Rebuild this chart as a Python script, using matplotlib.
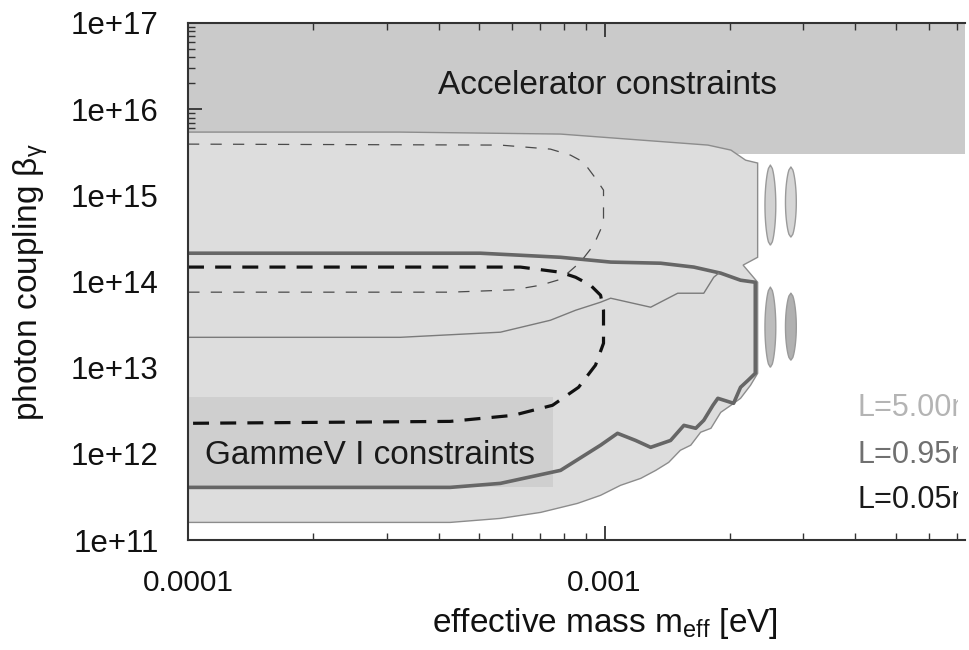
import numpy as np
import matplotlib
matplotlib.use("Agg")
import matplotlib.pyplot as plt
from matplotlib.ticker import FixedLocator, FixedFormatter, LogLocator, NullFormatter
from matplotlib.transforms import Bbox, TransformedBbox

plt.rcParams['font.family'] = ['Liberation Sans', 'DejaVu Sans']
plt.rcParams['mathtext.fontset'] = 'custom'
plt.rcParams['mathtext.rm'] = 'Liberation Sans'
plt.rcParams['mathtext.it'] = 'Liberation Sans:italic'

# axis ranges and ticks
x_range = [1e-4, 7.33e-3]
y_range = [1e11, 1e17]
x_ticks = [1e-4, 1e-3]
x_labels = ["0.0001", "0.001"]
y_ticks = [1e11, 1e12, 1e13, 1e14, 1e15, 1e16, 1e17]
y_labels = ["1e+11", "1e+12", "1e+13", "1e+14", "1e+15", "1e+16", "1e+17"]

# accelerator band
acc_x = [1e-4, 7.33e-3]
acc_lo = 3.0e15
acc_hi = 1e17

# outer excluded region (closed boundary)
outer_x = [1e-4, 3.23e-4, 7.84e-4, 1.22e-3, 1.77e-3, 2.01e-3, 2.18e-3, 2.33e-3, 2.33e-3, 2.15e-3,
           2.33e-3, 2.33e-3, 2.24e-3, 2.12e-3, 2.01e-3, 1.90e-3, 1.80e-3, 1.70e-3, 1.61e-3, 1.52e-3,
           1.425e-3, 1.327e-3, 1.221e-3, 1.092e-3, 9.78e-4, 8.61e-4, 7.02e-4, 5.62e-4, 4.26e-4, 1e-4]
outer_y = [5.42e15, 5.42e15, 5.14e15, 4.38e15, 3.83e15, 3.35e15, 2.56e15, 2.37e15, 1.91e14, 1.55e14,
           9.8e13, 8.6e12, 6.25e12, 4.41e12, 3.66e12, 3.03e12, 1.98e12, 1.78e12, 1.26e12, 1.10e12,
           7.96e11, 6.43e11, 5.19e11, 4.31e11, 3.30e11, 2.66e11, 2.09e11, 1.78e11, 1.6e11, 1.6e11]

# thick solid contour
thick_x = [1e-4, 5.03e-4, 7.84e-4, 1.034e-3, 1.363e-3, 1.637e-3, 1.90e-3, 2.12e-3, 2.30e-3, 2.30e-3,
           2.21e-3, 2.12e-3, 2.04e-3, 1.87e-3, 1.82e-3, 1.73e-3, 1.655e-3, 1.55e-3, 1.44e-3, 1.29e-3,
           1.187e-3, 1.074e-3, 9.78e-4, 7.84e-4, 5.62e-4, 4.26e-4, 1e-4]
thick_y = [2.13e14, 2.13e14, 1.91e14, 1.68e14, 1.63e14, 1.47e14, 1.25e14, 1.035e14, 9.8e13, 8.6e12,
           7.14e12, 5.92e12, 3.86e12, 4.41e12, 3.66e12, 2.45e12, 1.98e12, 2.14e12, 1.43e12, 1.19e12,
           1.43e12, 1.73e12, 1.26e12, 6.43e11, 4.54e11, 4.08e11, 4.08e11]

# thin solid contour
thin_x = [1e-4, 3.23e-4, 5.62e-4, 7.41e-4, 8.52e-4, 9.78e-4, 1.034e-3, 1.29e-3, 1.498e-3, 1.73e-3, 1.828e-3, 1.879e-3]
thin_y = [2.25e13, 2.25e13, 2.58e13, 3.55e13, 4.64e13, 5.75e13, 6.4e13, 5.03e13, 7.31e13, 7.31e13, 1.12e14, 1.25e14]

# thin dashed contour
tdash_x = [1e-4, 5.62e-4, 7.41e-4, 8.28e-4, 8.90e-4, 9.51e-4, 9.94e-4, 9.94e-4, 9.41e-4, 8.75e-4,
           7.84e-4, 7.02e-4, 6.04e-4, 4.26e-4, 1e-4]
tdash_y = [3.93e15, 3.83e15, 3.44e15, 2.93e15, 2.43e15, 1.58e15, 1.15e15, 4.75e14, 2.64e14, 1.68e14,
           1.06e14, 9.06e13, 8.0e13, 7.52e13, 7.52e13]

# thick dashed contour
kdash_x = [1e-4, 6.28e-4, 7.84e-4, 8.52e-4, 9.25e-4, 9.78e-4, 9.94e-4, 9.94e-4, 9.51e-4, 8.66e-4,
           7.50e-4, 6.04e-4, 4.26e-4, 1e-4]
kdash_y = [1.47e14, 1.47e14, 1.28e14, 1.12e14, 9.06e13, 6.93e13, 4.64e13, 1.92e13, 1.07e13, 5.92e12,
           3.66e12, 2.80e12, 2.38e12, 2.26e12]

# GammeV I region
gam_x = [1e-4, 7.5e-4]
gam_lo = 4.08e11
gam_hi = 4.6e12

# resonance lobes beyond the cut-off
lobe_xc = [2.5e-3, 2.8e-3, 2.5e-3, 2.8e-3]
lobe_ylo = [2.64e14, 3.27e14, 1.01e13, 1.22e13]
lobe_yhi = [2.24e15, 2.13e15, 8.59e13, 7.31e13]

L_labels = ["L=5.00m", "L=0.95m", "L=0.05m"]

fig = plt.figure(figsize=(9.7, 6.5), dpi=100)
ax = fig.add_axes([188 / 970, 1 - 540 / 650, 777 / 970, 517 / 650])
ax.set_xscale('log')
ax.set_yscale('log')
ax.set_xlim(x_range)
ax.set_ylim(y_range)

ax.fill_between(acc_x, acc_lo, acc_hi, color='#cacaca', lw=0, zorder=1)
ax.fill(outer_x, outer_y, facecolor='#dddddd', edgecolor='#8c8c8c', lw=1.0, zorder=2)
ax.fill_between(gam_x, gam_lo, gam_hi, color='#cfcfcf', lw=0, zorder=2.5)

# lobes
t = np.linspace(0, 1, 25)
for xc, ylo, yhi, fc in zip(lobe_xc, lobe_ylo, lobe_yhi, ['#d2d2d2', '#d6d6d6', '#bcbcbc', '#b0b0b0']):
    ly = 10 ** (np.log10(ylo) + t * (np.log10(yhi) - np.log10(ylo)))
    w = 10 ** (0.013 * np.sin(np.pi * t) ** 0.5)
    xs = np.concatenate([xc * w, (xc / w)[::-1]])
    ys = np.concatenate([ly, ly[::-1]])
    ax.fill(xs, ys, facecolor=fc, edgecolor='#9a9a9a', lw=1.0, zorder=2)

ax.plot(thick_x, thick_y, color='#666666', lw=2.6, solid_joinstyle='round', zorder=4)
ax.plot(thin_x, thin_y, color='#7a7a7a', lw=1.0, zorder=4)
ax.plot(tdash_x, tdash_y, color='#4a4a4a', lw=0.9, linestyle=(0, (9, 9)), zorder=4)
ax.plot(kdash_x, kdash_y, color='#111111', lw=2.3, linestyle=(0, (5, 3.5)), zorder=5)

ax.text(0.322, 0.880, "Accelerator constraints", transform=ax.transAxes,
        fontsize=24, ha='left', va='center', color='#1a1a1a', zorder=6)
ax.text(0.022, 0.164, "GammeV I constraints", transform=ax.transAxes,
        fontsize=24, ha='left', va='center', color='#1a1a1a', zorder=6)
# the labels on the right are cut at the edge of the scanned figure
clip = TransformedBbox(Bbox([[0, 0], [958 / 970, 1]]), fig.transFigure)
for lab, yy, c in zip(L_labels, [0.255, 0.164, 0.077], ['#b4b4b4', '#707070', '#1a1a1a']):
    tx = ax.text(0.862, yy, lab, transform=ax.transAxes, fontsize=22, ha='left', va='center',
                 color=c, zorder=6)
    tx.set_clip_box(clip)
    tx.set_clip_on(True)

ax.xaxis.set_major_locator(FixedLocator(x_ticks))
ax.xaxis.set_major_formatter(FixedFormatter(x_labels))
ax.xaxis.set_minor_locator(LogLocator(base=10, subs=np.arange(2, 10)))
ax.xaxis.set_minor_formatter(NullFormatter())
ax.yaxis.set_major_locator(FixedLocator(y_ticks))
ax.yaxis.set_major_formatter(FixedFormatter(y_labels))
ax.yaxis.set_minor_locator(LogLocator(base=10, subs=np.arange(2, 10)))
ax.yaxis.set_minor_formatter(NullFormatter())

ax.tick_params(which='both', direction='in', top=True, right=False, colors='#333333',
               labelcolor='#111111')
ax.tick_params(which='major', length=10, width=1.3, pad=21)
ax.tick_params(axis='x', which='major', labelsize=21.5)
ax.tick_params(axis='y', which='major', labelsize=22.5)
ax.tick_params(which='minor', length=5, width=1.0)
for side in ['left', 'bottom', 'top']:
    ax.spines[side].set_color('#333333')
    ax.spines[side].set_linewidth(1.5)
    ax.spines[side].set_zorder(7)
ax.spines['right'].set_visible(False)

ax.set_xlabel(r'effective mass m$_{\mathrm{eff}}$ [eV]', fontsize=24, color='#111111')
ax.xaxis.set_label_coords(0.537, -0.128)
ax.set_ylabel(r'photon coupling $\mathrm{\beta}_{\mathrm{\gamma}}$', fontsize=24, color='#111111')
ax.yaxis.set_label_coords(-0.178, 0.5)

fig.savefig("out.png", dpi=100)
